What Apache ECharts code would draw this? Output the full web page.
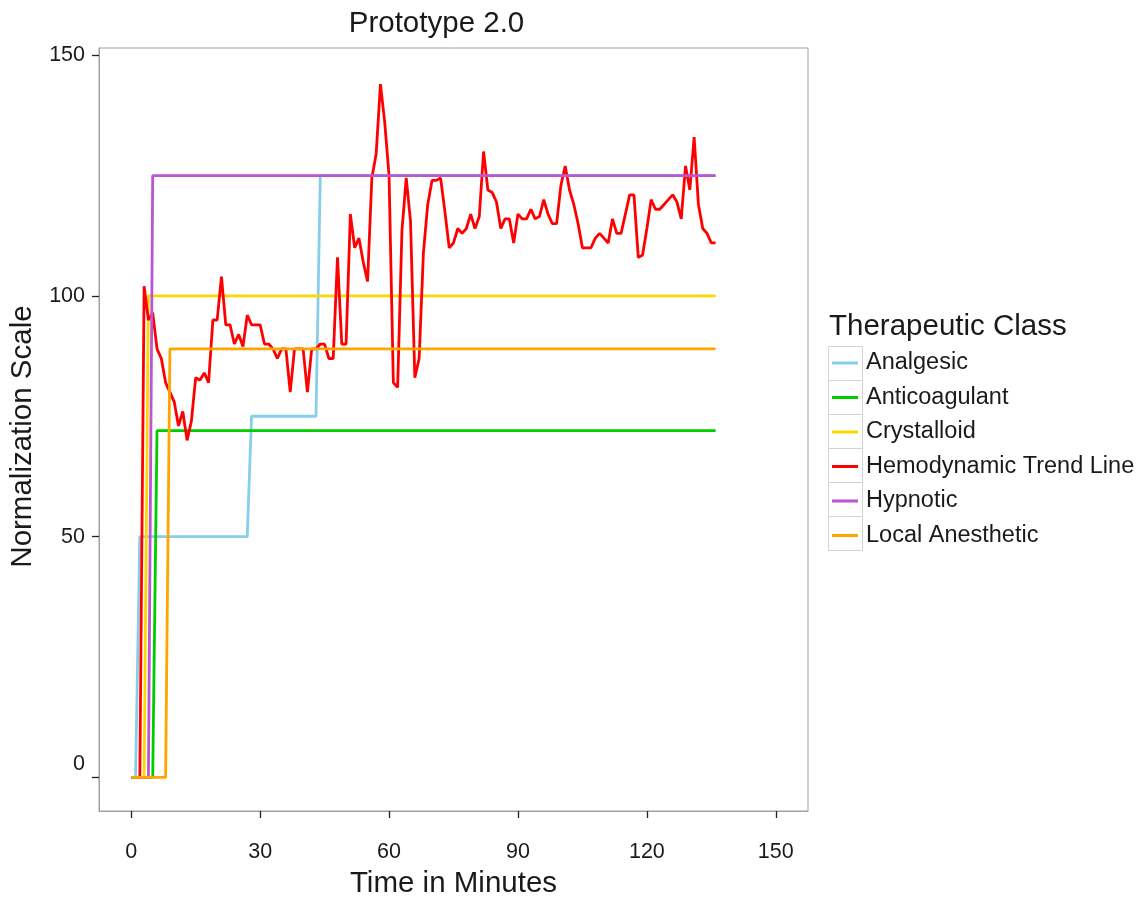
<!DOCTYPE html>
<html><head><meta charset="utf-8">
<script src="https://cdn.jsdelivr.net/npm/echarts@6/dist/echarts.min.js"></script>
<style>html,body{margin:0;padding:0;background:#fff}#c{width:1147px;height:897px}</style>
</head><body><div id="c"></div>
<script>
// ---- data ----
const chartTitle = 'Prototype 2.0';
const xTicks = [0, 30, 60, 90, 120, 150];
const yTicks = [0, 50, 100, 150];
const classNames = ['Analgesic', 'Anticoagulant', 'Crystalloid', 'Hemodynamic Trend Line', 'Hypnotic', 'Local Anesthetic'];

const analgesicTime = [0, 1, 2, 27, 28, 43, 44, 136];
const analgesicValue = [0, 0, 50, 50, 75, 75, 125, 125];
const anticoagulantTime = [0, 5, 6, 136];
const anticoagulantValue = [0, 0, 72, 72];
const crystalloidTime = [0, 3, 4, 136];
const crystalloidValue = [0, 0, 100, 100];
const hypnoticTime = [0, 4, 5, 136];
const hypnoticValue = [0, 0, 125, 125];
const localAnestheticTime = [0, 8, 9, 136];
const localAnestheticValue = [0, 0, 89, 89];

const hemoTime = [0,1,2,3,4,5,6,7,8,9,10,11,12,13,14,15,16,17,18,19,20,21,22,23,24,25,26,27,28,29,30,31,32,33,34,35,36,37,38,39,40,41,42,43,44,45,46,47,48,49,50,51,52,53,54,55,56,57,58,59,60,61,62,63,64,65,66,67,68,69,70,71,72,73,74,75,76,77,78,79,80,81,82,83,84,85,86,87,88,89,90,91,92,93,94,95,96,97,98,99,100,101,102,103,104,105,106,107,108,109,110,111,112,113,114,115,116,117,118,119,120,121,122,123,124,125,126,127,128,129,130,131,132,133,134,135,136];
const hemoValue = [0,0,0,102,95,96.5,89,87,82,80,
  78,73,76,70,74,83,82.5,84,82,95,
  95,104,94,94,90,92,89.5,96,94,94,
  94,90,90,89,87,89,89,80,89,89,
  89,80,89,89,90,90,87,87,108,90,
  90,117,110,112,107,103,124.5,129.5,144,136,
  125,82,81,113.5,124.5,115.5,83,87,109,119,
  124,124,124.5,117.5,110,111,114,113,114,117,
  114,116.5,130,122,121.5,119.5,114,116,116,111,
  117,116,116,118,116,116.5,120,117,115,115,
  123,127,122,119,115,110,110,110,112,113,
  112,111,116,113,113,117,121,121,108,108.5,
  114,120,118,118,119,120,121,119.5,116,127,
  122,133,119,114,113,111,111];

// ---- styling ----
const colors = ['#87CEEB', '#00CD00', '#FFD700', '#FF0000', '#BA55D3', '#FFA500'];
const FONT = "'Liberation Sans', Arial, sans-serif";
const TXT = '#1a1a1a';

function pairs(t, v) { return t.map((x, i) => [x, v[i]]); }
const seriesData = [
  pairs(analgesicTime, analgesicValue),
  pairs(anticoagulantTime, anticoagulantValue),
  pairs(crystalloidTime, crystalloidValue),
  pairs(hemoTime, hemoValue),
  pairs(hypnoticTime, hypnoticValue),
  pairs(localAnestheticTime, localAnestheticValue)
];

const keyBoxes = classNames.map((n, i) => ({
  type: 'rect', left: 826, top: 344 + i * 34,
  shape: { width: 34, height: 34 },
  style: { fill: 'none', stroke: '#d3d3d3', lineWidth: 1 }, silent: true
}));

const chart = echarts.init(document.getElementById('c'));
chart.setOption({
  animation: false,
  backgroundColor: '#fff',
  textStyle: { fontFamily: FONT },
  title: [
    { text: chartTitle, left: 436.5, top: 9, padding: 0, textAlign: 'center',
      textStyle: { fontFamily: FONT, fontSize: 29.5, fontWeight: 'normal', color: TXT } },
    { text: 'Therapeutic Class', left: 829, top: 312, padding: 0,
      textStyle: { fontFamily: FONT, fontSize: 29.5, fontWeight: 'normal', color: TXT } }
  ],
  graphic: keyBoxes,
  legend: {
    data: classNames, orient: 'vertical', left: 832, top: 351, padding: 0,
    icon: 'rect', itemWidth: 26, itemHeight: 3, itemGap: 10.5,
    textStyle: { fontFamily: FONT, fontSize: 23.5, lineHeight: 23.5, color: TXT, padding: [0, 0, 0, 3] },
    selectedMode: false
  },
  grid: { left: 99, right: 339, top: 48, bottom: 86, show: true, borderColor: '#a0a0a0', borderWidth: 1,
          outerBoundsMode: 'none', containLabel: false },
  xAxis: {
    type: 'value', min: -7.5, max: 157.5,
    name: 'Time in Minutes', nameLocation: 'middle', nameGap: 58,
    nameTextStyle: { fontFamily: FONT, fontSize: 29.5, color: TXT },
    axisLine: { show: true, onZero: false, lineStyle: { color: '#a0a0a0', width: 1 } },
    axisTick: { show: true, inside: false, customValues: xTicks, length: 7, lineStyle: { color: '#222', width: 1.3 } },
    axisLabel: { customValues: xTicks, margin: 30, fontFamily: FONT, fontSize: 21.5, color: TXT },
    splitLine: { show: false }
  },
  yAxis: {
    type: 'value', min: -7, max: 151.5,
    name: 'Normalization Scale', nameLocation: 'middle', nameGap: 58,
    nameTextStyle: { fontFamily: FONT, fontSize: 29.5, color: TXT, padding: [0, 14, 0, 0] },
    axisLine: { show: true, onZero: false, lineStyle: { color: '#a0a0a0', width: 1 } },
    axisTick: { show: true, inside: false, customValues: yTicks, length: 7, lineStyle: { color: '#222', width: 1.3 } },
    axisLabel: {
      customValues: yTicks, margin: 14, fontFamily: FONT, fontSize: 21.5, color: TXT,
      formatter: v => v === 0 ? '{z|0}' : String(v),
      rich: { z: { fontFamily: FONT, fontSize: 21.5, color: TXT, padding: [0, 0, 26, 0] } }
    },
    splitLine: { show: false }
  },
  series: classNames.map((n, i) => ({
    name: n, type: 'line', data: seriesData[i], symbol: 'none',
    color: colors[i], lineStyle: { color: colors[i], width: 2.8 },
    z: 2 + i
  }))
});
</script>
</body></html>
